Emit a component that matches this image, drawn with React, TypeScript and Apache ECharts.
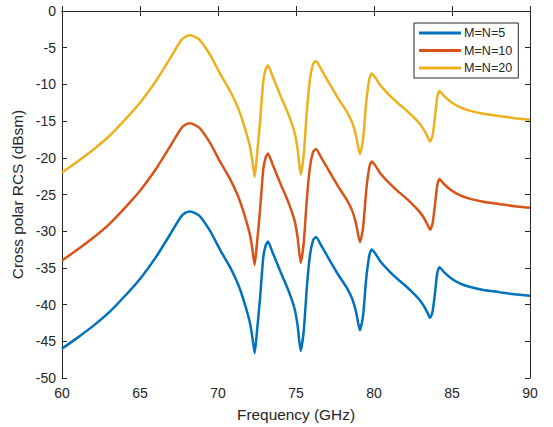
import React, { useEffect, useRef } from "react";
import * as echarts from "echarts";

const freq = [60, 61, 62, 63, 64, 65, 66, 67, 67.6, 67.9, 68.2, 68.5, 68.85, 69.5, 70.15, 70.8, 71.3, 71.7, 72.05, 72.2, 72.35, 72.5, 72.7, 72.9, 73.05, 73.2, 73.5, 74.0, 74.5, 74.9, 75.1, 75.3, 75.5, 75.7, 75.9, 76.1, 76.28, 76.6, 77.2, 77.7, 78.25, 78.6, 78.85, 79.1, 79.3, 79.5, 79.7, 79.85, 80.1, 80.4, 81.0, 81.5, 82.0, 82.5, 82.9, 83.2, 83.45, 83.6, 83.75, 83.9, 84.05, 84.2, 84.5, 85, 85.5, 86, 87, 88, 89, 90];

const mn5 = [-46.0, -44.5, -42.9, -41.1, -38.9, -36.5, -33.6, -30.2, -28.1, -27.5, -27.3, -27.5, -28.0, -30.0, -32.6, -35.0, -37.3, -39.8, -42.5, -44.4, -46.6, -43.6, -39.0, -33.6, -32.0, -31.4, -32.9, -35.5, -38.0, -40.5, -42.8, -46.3, -43.5, -37.5, -33.2, -31.2, -30.8, -31.9, -34.1, -35.9, -37.7, -39.2, -41.0, -43.5, -41.5, -36.5, -33.3, -32.5, -33.1, -34.1, -35.5, -36.5, -37.4, -38.4, -39.3, -40.2, -41.2, -41.8, -41.0, -38.6, -35.8, -34.9, -35.6, -36.5, -37.1, -37.5, -38.0, -38.3, -38.6, -38.8];

const mn10 = [-34.0, -32.5, -30.9, -29.1, -26.9, -24.5, -21.6, -18.2, -16.1, -15.5, -15.3, -15.5, -16.0, -18.0, -20.6, -23.0, -25.3, -27.8, -30.5, -32.4, -34.6, -31.6, -27.0, -21.6, -20.0, -19.4, -20.9, -23.5, -26.0, -28.5, -30.8, -34.3, -31.5, -25.5, -21.2, -19.2, -18.8, -19.9, -22.1, -23.9, -25.7, -27.2, -29.0, -31.5, -29.5, -24.5, -21.3, -20.5, -21.1, -22.1, -23.5, -24.5, -25.4, -26.4, -27.3, -28.2, -29.2, -29.8, -29.0, -26.6, -23.8, -22.9, -23.6, -24.5, -25.1, -25.5, -26.0, -26.3, -26.6, -26.8];

const mn20 = [-22.0, -20.5, -18.9, -17.1, -14.9, -12.5, -9.6, -6.2, -4.1, -3.5, -3.3, -3.5, -4.0, -6.0, -8.6, -11.0, -13.3, -15.8, -18.5, -20.4, -22.6, -19.6, -15.0, -9.6, -8.0, -7.4, -8.9, -11.5, -14.0, -16.5, -18.8, -22.3, -19.5, -13.5, -9.2, -7.2, -6.8, -7.9, -10.1, -11.9, -13.7, -15.2, -17.0, -19.5, -17.5, -12.5, -9.3, -8.5, -9.1, -10.1, -11.5, -12.5, -13.4, -14.4, -15.3, -16.2, -17.2, -17.8, -17.0, -14.6, -11.8, -10.9, -11.6, -12.5, -13.1, -13.5, -14.0, -14.3, -14.6, -14.8];

const seriesNames = ["M=N=5", "M=N=10", "M=N=20"];
const seriesColors = ["#0072BD", "#D95319", "#EDB120"];

const FONT = "'Liberation Sans', Arial, Helvetica, sans-serif";
const AX = "#262626";

export default function App() {
  const ref = useRef<HTMLDivElement>(null);
  useEffect(() => {
    if (!ref.current) return;
    const chart = echarts.init(ref.current, undefined, { renderer: "svg" });
    const all = [mn5, mn10, mn20];
    const axisCommon = {
      type: "value" as const,
      axisLine: { show: true, lineStyle: { color: AX, width: 1 } },
      axisTick: { show: true, inside: true, length: 5, lineStyle: { color: AX } },
      splitLine: { show: false },
    };
    chart.setOption({
      animation: false,
      backgroundColor: "#ffffff",
      grid: { left: 62, right: 23, top: 11, bottom: 46, containLabel: false },
      legend: {
        left: 414,
        top: 23,
        orient: "vertical",
        icon: "rect",
        itemWidth: 42,
        itemHeight: 3,
        itemGap: 2.5,
        padding: [2.5, 6, 2.5, 5],
        backgroundColor: "#ffffff",
        borderColor: AX,
        borderWidth: 1,
        borderRadius: 0,
        textStyle: { fontFamily: FONT, fontSize: 12.6, lineHeight: 15, color: AX, padding: [0, 0, 0, -2] },
        data: seriesNames,
      },
      xAxis: [
        {
          ...axisCommon,
          min: 60,
          max: 90,
          interval: 5,
          position: "bottom",
          name: "Frequency (GHz)",
          nameLocation: "middle",
          nameGap: 29,
          nameTextStyle: { fontFamily: FONT, fontSize: 15.4, color: AX },
          axisLabel: { fontFamily: FONT, fontSize: 14, color: AX, margin: 8 },
        },
        {
          ...axisCommon,
          min: 60,
          max: 90,
          interval: 5,
          position: "top",
          axisLabel: { show: false },
        },
      ],
      yAxis: [
        {
          ...axisCommon,
          min: -50,
          max: 0,
          interval: 5,
          position: "left",
          name: "Cross polar RCS (dBsm)",
          nameLocation: "middle",
          nameGap: 29,
          nameRotate: 90,
          nameTextStyle: { fontFamily: FONT, fontSize: 15.4, color: AX },
          axisLabel: { fontFamily: FONT, fontSize: 14, color: AX, margin: 6 },
        },
        {
          ...axisCommon,
          min: -50,
          max: 0,
          interval: 5,
          position: "right",
          axisLabel: { show: false },
        },
      ],
      series: seriesNames.map((name, i) => ({
        name,
        type: "line",
        xAxisIndex: 0,
        yAxisIndex: 0,
        showSymbol: false,
        symbol: "none",
        smooth: 0.2,
        color: seriesColors[i],
        lineStyle: { width: 2.5, color: seriesColors[i] },
        data: freq.map((f, k) => [f, all[i][k]]),
      })),
    });
    return () => chart.dispose();
  }, []);
  return (
    <div
      ref={ref}
      style={{ position: "fixed", left: 0, top: 0, width: 553, height: 427 }}
    />
  );
}
